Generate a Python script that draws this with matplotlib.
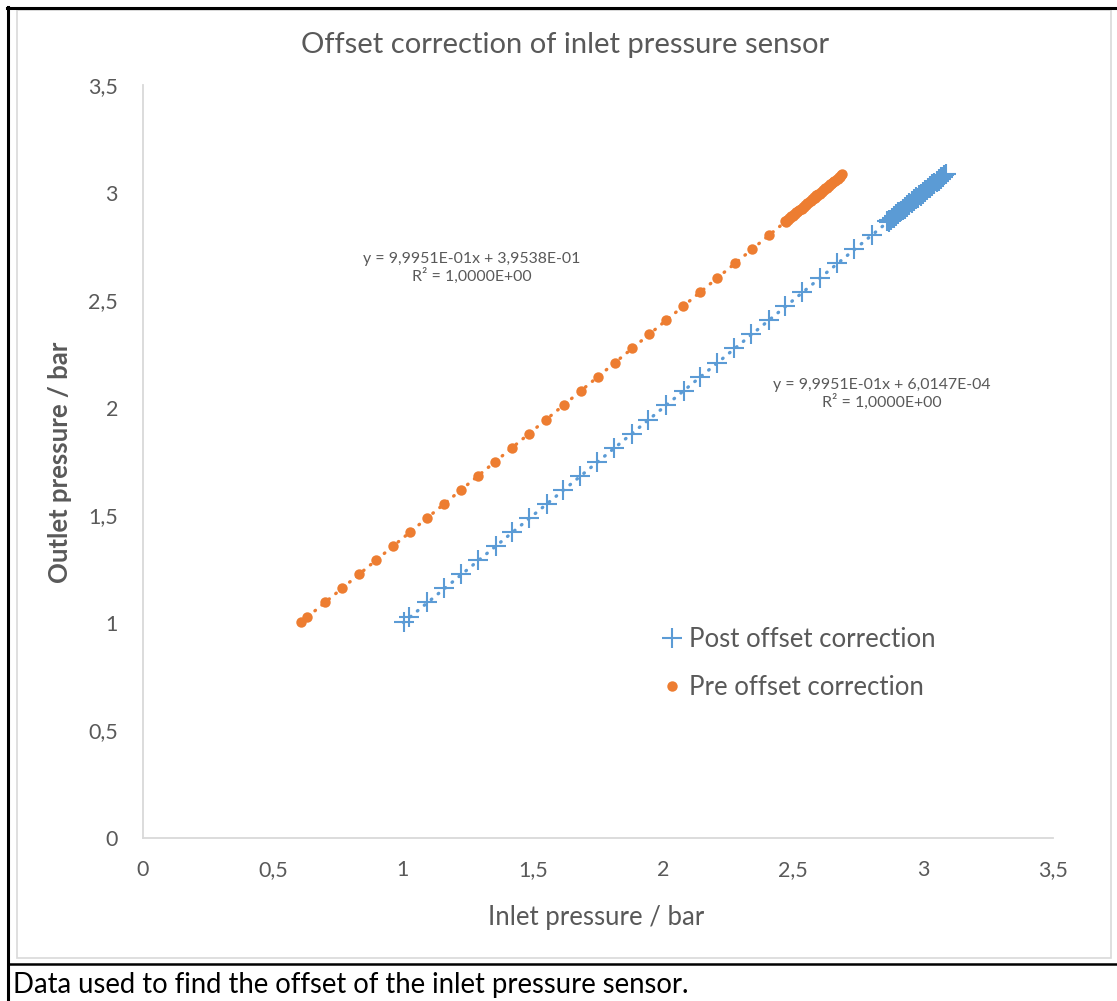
import matplotlib
matplotlib.use('Agg')
import matplotlib.pyplot as plt
from matplotlib.lines import Line2D
from matplotlib.patches import Rectangle
from matplotlib.ticker import FuncFormatter, MultipleLocator

plt.rcParams['font.family'] = ['Lato', 'DejaVu Sans']

BLUE = '#5B9BD5'
ORANGE = '#ED7D31'
GREY = '#595959'

# stepped part of the calibration run (pre correction)
pre_inlet = [0.608, 0.631, 0.700, 0.765, 0.831, 0.896, 0.962, 1.027, 1.092, 1.158,
             1.223, 1.288, 1.354, 1.419, 1.485, 1.550, 1.619, 1.685, 1.750, 1.815,
             1.881, 1.946, 2.012, 2.077, 2.142, 2.208, 2.277, 2.342, 2.408]
outlet = [1.003, 1.026, 1.095, 1.160, 1.226, 1.291, 1.357, 1.422, 1.487, 1.553,
          1.618, 1.683, 1.749, 1.814, 1.880, 1.945, 2.014, 2.080, 2.145, 2.210,
          2.276, 2.341, 2.407, 2.472, 2.537, 2.603, 2.672, 2.737, 2.803]
post_inlet = [1.002, 1.025, 1.094, 1.159, 1.225, 1.290, 1.356, 1.421, 1.486, 1.552,
              1.617, 1.682, 1.748, 1.813, 1.879, 1.944, 2.013, 2.079, 2.144, 2.209,
              2.275, 2.340, 2.406, 2.471, 2.536, 2.602, 2.671, 2.736, 2.802]

# continuous logging at the top of the range
pre_inlet_dense = [2.468, 2.472, 2.477, 2.481, 2.486, 2.490, 2.494, 2.499, 2.503, 2.507,
                   2.512, 2.516, 2.520, 2.525, 2.529, 2.533, 2.538, 2.542, 2.546, 2.551,
                   2.555, 2.559, 2.564, 2.568, 2.572, 2.577, 2.581, 2.585, 2.590, 2.594,
                   2.598, 2.603, 2.607, 2.611, 2.616, 2.620, 2.624, 2.629, 2.633, 2.637,
                   2.642, 2.646, 2.650, 2.655, 2.659, 2.663, 2.668, 2.672, 2.676, 2.681,
                   2.685, 2.690]
outlet_dense = [2.866, 2.864, 2.873, 2.874, 2.883, 2.882, 2.891, 2.892, 2.900, 2.899,
                2.909, 2.908, 2.917, 2.918, 2.926, 2.925, 2.935, 2.934, 2.943, 2.944,
                2.952, 2.951, 2.961, 2.960, 2.969, 2.970, 2.978, 2.977, 2.987, 2.986,
                2.995, 2.996, 3.004, 3.003, 3.013, 3.012, 3.021, 3.022, 3.030, 3.029,
                3.039, 3.038, 3.047, 3.048, 3.056, 3.055, 3.065, 3.064, 3.073, 3.074,
                3.082, 3.086]
post_inlet_dense = [2.861, 2.869, 2.870, 2.878, 2.879, 2.887, 2.888, 2.896, 2.896, 2.904,
                    2.905, 2.913, 2.914, 2.922, 2.922, 2.930, 2.931, 2.939, 2.940, 2.948,
                    2.948, 2.956, 2.957, 2.965, 2.966, 2.974, 2.974, 2.982, 2.983, 2.991,
                    2.992, 3.000, 3.000, 3.008, 3.009, 3.017, 3.018, 3.026, 3.026, 3.034,
                    3.035, 3.043, 3.044, 3.052, 3.052, 3.060, 3.061, 3.069, 3.070, 3.078,
                    3.079, 3.090]

# linear trendlines (slope, intercept)
pre_fit = (0.99951, 0.39538)
post_fit = (0.99951, 0.00060147)


def comma(v, pos):
    s = ('%g' % v)
    return s.replace('.', ',')


fig = plt.figure(figsize=(11.17, 10.01), dpi=100)
ax = fig.add_axes([0.128, 0.1628, 0.8147, 0.7522])

pre_x = pre_inlet + pre_inlet_dense
pre_y = outlet + outlet_dense
post_x = post_inlet + post_inlet_dense
post_y = outlet + outlet_dense

ax.plot(post_x, post_y, ls='none', marker='+', ms=15, mew=1.5, color=BLUE,
        label='Post offset correction', zorder=3)
ax.plot(pre_x, pre_y, ls='none', marker='o', ms=7.5, mew=0, color=ORANGE,
        label='Pre offset correction', zorder=3)

for xs, fit, c in [(pre_x, pre_fit, ORANGE), (post_x, post_fit, BLUE)]:
    x0, x1 = min(xs), max(xs)
    ax.plot([x0, x1], [fit[0] * x0 + fit[1], fit[0] * x1 + fit[1]], color=c,
            lw=2.4, ls=(0, (0.2, 2.5)), dash_capstyle='round', zorder=4)

ax.text(1.265, 2.649, 'y = 9,9951E-01x + 3,9538E-01\nR² = 1,0000E+00', ha='center',
        va='center', fontsize=11.4, color=GREY, linespacing=1.15)
ax.text(2.842, 2.063, 'y = 9,9951E-01x + 6,0147E-04\nR² = 1,0000E+00', ha='center',
        va='center', fontsize=11.4, color=GREY, linespacing=1.15)

ax.set_xlim(0, 3.5)
ax.set_ylim(0, 3.5)
ax.xaxis.set_major_locator(MultipleLocator(0.5))
ax.yaxis.set_major_locator(MultipleLocator(0.5))
ax.xaxis.set_major_formatter(FuncFormatter(comma))
ax.yaxis.set_major_formatter(FuncFormatter(comma))
ax.tick_params(axis='x', length=0, pad=16, labelsize=15.5, labelcolor=GREY)
ax.tick_params(axis='y', length=0, pad=18, labelsize=15.5, labelcolor=GREY)
for side in ['top', 'right']:
    ax.spines[side].set_visible(False)
for side in ['left', 'bottom']:
    ax.spines[side].set_color('#D9D9D9')
    ax.spines[side].set_linewidth(1.3)

leg = ax.legend(loc='upper left', bbox_to_anchor=(0.556, 0.2935), frameon=False,
                fontsize=18.5, handlelength=1.0, handletextpad=0.15, labelspacing=0.9,
                borderaxespad=0)
for t in leg.get_texts():
    t.set_color(GREY)

fig.text(0.506, 0.955, 'Offset correction of inlet pressure sensor', ha='center',
         va='center', fontsize=21, color=GREY)
fig.text(0.534, 0.083, 'Inlet pressure / bar', ha='center', va='center',
         fontsize=18.5, color=GREY)
fig.text(0.0537, 0.538, 'Outlet pressure / bar', ha='center', va='center',
         rotation=90, fontsize=18.5, fontweight='bold', color=GREY)

# table cell borders around the chart and caption
fig.patches.append(Rectangle((17 / 1117, 1 - 958 / 1001), 1094 / 1117, 948 / 1001,
                             transform=fig.transFigure, fill=False, ec='#D9D9D9', lw=1.2))
for xs, ys, w in [([6.5 / 1117, 1], [1 - 7.5 / 1001] * 2, 2.2),
                  ([7.5 / 1117] * 2, [0, 1 - 6.5 / 1001], 2.2),
                  ([7.5 / 1117, 1], [1 - 963.5 / 1001] * 2, 1.8)]:
    fig.lines.append(Line2D(xs, ys, transform=fig.transFigure, color='black', lw=w))

fig.text(0.0115, 1 - 985 / 1001, 'Data used to find the offset of the inlet pressure sensor.',
         ha='left', va='center', fontsize=19.8, color='black')

fig.savefig('out.png', dpi=100)
